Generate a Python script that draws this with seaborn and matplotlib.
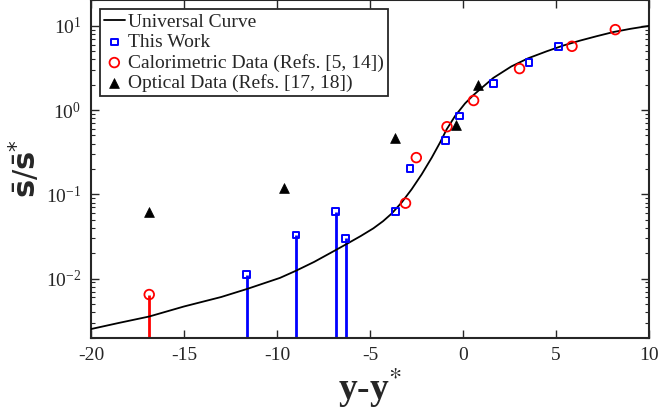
import numpy as np
import pandas as pd
import matplotlib
matplotlib.use("Agg")
import matplotlib.pyplot as plt
import seaborn as sns
from matplotlib.ticker import LogLocator, FixedLocator

# Universal curve, sampled along y - y*
curve_x = [-20, -18.5, -16.87, -15, -13, -11.6, -9.84, -8.98, -8, -6.83, -6.29,
           -5.5, -4.82, -4.3, -3.84, -3.3, -2.76, -2.22, -1.68, -1.24, -0.88,
           -0.43, 0.11, 0.55, 0.91, 1.63, 2.6, 3.5, 4.5, 5.4, 6.29, 7.2, 8.08,
           9.0, 10]
curve_y = [0.00252, 0.00298, 0.00355, 0.00467, 0.00605, 0.00755, 0.0102, 0.0124,
           0.0158, 0.0219, 0.0255, 0.0320, 0.0395, 0.0480, 0.0590, 0.080, 0.115,
           0.173, 0.273, 0.410, 0.590, 0.849, 1.20, 1.50, 1.76, 2.41, 3.30,
           4.12, 4.99, 5.85, 6.68, 7.55, 8.44, 9.22, 10.0]

# This work
work_x = [-11.63, -8.98, -6.84, -6.31, -3.62, -2.85, -0.95, -0.20, 1.63, 3.55, 5.14]
work_y = [0.0111, 0.0329, 0.0626, 0.0300, 0.0626, 0.202, 0.438, 0.850, 2.09, 3.70, 5.72]

# Calorimetric data (Refs. [5, 14])
calo_x = [-16.87, -3.09, -2.51, -0.86, 0.57, 3.04, 5.86, 8.19]
calo_y = [0.00647, 0.0786, 0.273, 0.635, 1.30, 3.11, 5.72, 9.02]

# Optical data (Refs. [17, 18])
opt_x = [-16.88, -9.62, -3.68, -0.40, 0.79]
opt_y = [0.061, 0.118, 0.471, 0.664, 2.01]

x_ticks = [-20, -15, -10, -5, 0, 5, 10]
y_lim = (0.002, 20)

sns.set_style("ticks")
plt.rcParams["font.family"] = ["Liberation Serif", "DejaVu Serif"]
plt.rcParams["mathtext.fontset"] = "stix"

fig = plt.figure(figsize=(6.59, 4.13), dpi=100)
ax = fig.add_axes([0.1381, 0.1828, 0.8467, 0.8160])

curve = pd.DataFrame({"x": curve_x, "y": curve_y})
work = pd.DataFrame({"x": work_x, "y": work_y})
calo = pd.DataFrame({"x": calo_x, "y": calo_y})
opt = pd.DataFrame({"x": opt_x, "y": opt_y})

# stems down to the lower axis limit for the low-value points
work_stem = work[work["x"] < -5]
calo_stem = calo[calo["x"] < -15]
ax.vlines(work_stem["x"], y_lim[0], work_stem["y"], colors="#0000ff", linewidth=2.0, zorder=2)
ax.vlines(calo_stem["x"], y_lim[0], calo_stem["y"], colors="#ff0000", linewidth=2.0, zorder=2)

sns.lineplot(data=curve, x="x", y="y", ax=ax, color="black", linewidth=1.3,
             label="Universal Curve", zorder=3)
sns.scatterplot(data=work, x="x", y="y", ax=ax, marker="s", s=24,
                facecolor="none", edgecolor="#0000ff", linewidth=1.4,
                label="This Work", zorder=4)
sns.scatterplot(data=calo, x="x", y="y", ax=ax, marker="o", s=48,
                facecolor="none", edgecolor="#ff0000", linewidth=1.3,
                label="Calorimetric Data (Refs. [5, 14])", zorder=4)
sns.scatterplot(data=opt, x="x", y="y", ax=ax, marker="^", s=50,
                color="black", edgecolor="black", linewidth=0.5,
                label="Optical Data (Refs. [17, 18])", zorder=4)

ax.set_yscale("log")
ax.set_xlim(-20, 10)
ax.set_ylim(*y_lim)
ax.xaxis.set_major_locator(FixedLocator(x_ticks))
ax.set_xticklabels([str(t) for t in x_ticks])
ax.yaxis.set_major_locator(LogLocator(base=10, numticks=10))
ax.yaxis.set_minor_locator(LogLocator(base=10, subs=np.arange(2, 10), numticks=10))

ax.tick_params(which="both", direction="in", top=True, right=True, color="#262626")
ax.tick_params(which="major", length=6, width=1.0, labelsize=14, colors="#262626",
               labelcolor="#262626", pad=7)
ax.tick_params(which="minor", length=3, width=0.8)
for sp in ax.spines.values():
    sp.set_linewidth(1.5)
    sp.set_color("#262626")

ax.set_xlabel("y-y$^{*}$", fontsize=27, fontweight="bold", labelpad=1, color="#262626")
ax.set_ylabel(r"$\bar{\mathbf{s}}/\bar{\mathbf{s}}^{*}$", fontsize=22,
              math_fontfamily="dejavusans", labelpad=2, color="#262626")

leg = ax.legend(loc="upper left", fontsize=14, frameon=True, fancybox=False,
                edgecolor="#262626", framealpha=1, handlelength=1.1,
                handletextpad=0.15, labelspacing=0.14, borderpad=0.2,
                borderaxespad=0.45)
leg.get_frame().set_linewidth(1.3)

fig.savefig("out.png", dpi=100)
